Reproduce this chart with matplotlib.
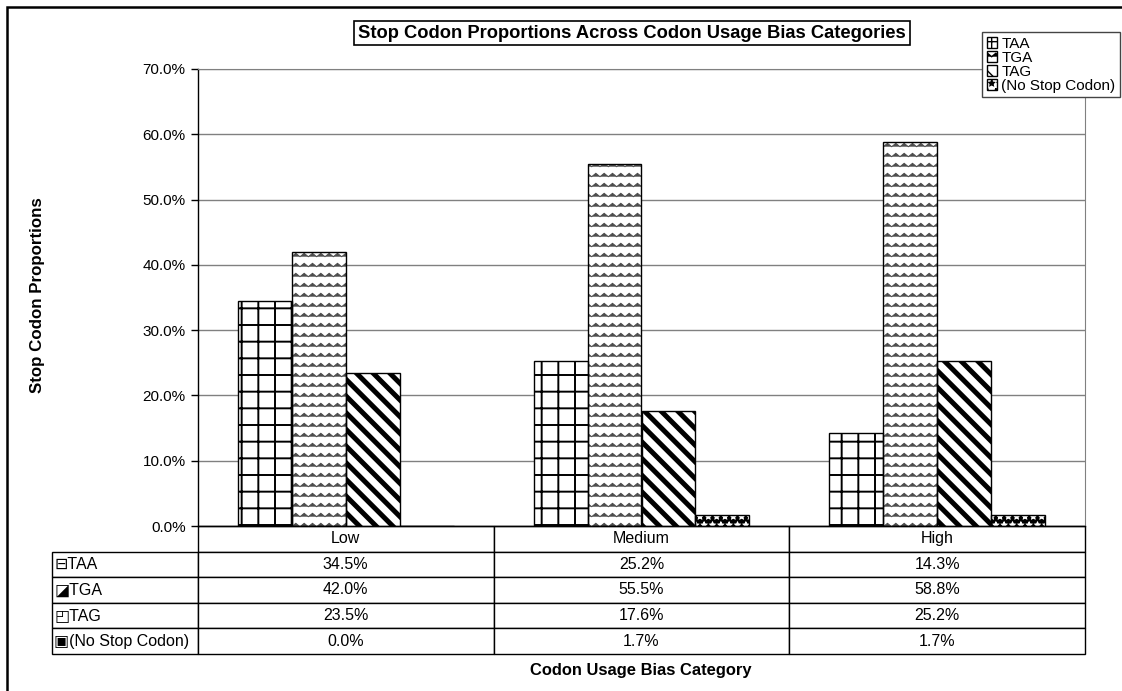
import warnings
import matplotlib
matplotlib.use("Agg")
import matplotlib.pyplot as plt
import numpy as np
from matplotlib import hatch as mhatch
from matplotlib.path import Path
from matplotlib.patches import Rectangle, Patch

warnings.filterwarnings("ignore")

categories = ["Low", "Medium", "High"]
series = ["TAA", "TGA", "TAG", "(No Stop Codon)"]
taa = [34.5, 25.2, 14.3]
tga = [42.0, 55.5, 58.8]
tag = [23.5, 17.6, 25.2]
no_stop = [0.0, 1.7, 1.7]
yticks = [0, 10, 20, 30, 40, 50, 60, 70]
table_icons = ["\u229f", "\u25ea", "\u25f0", "\u25a3"]

plt.rcParams["font.family"] = ["Liberation Sans", "DejaVu Sans"]

W, H = 1122, 691


class WaveHatch(mhatch.HatchPatternBase):
    # wavy horizontal lines for '~'
    def __init__(self, hatch, density):
        self.num_rows = (hatch.count("~") * density * 5) // 3
        self.periods = 12
        self.num_vertices = self.num_rows * (2 * self.periods + 1)

    def set_vertices_and_codes(self, vertices, codes):
        n = 2 * self.periods + 1
        xs = np.linspace(0, 1, n)
        amp = 0.17 / max(self.num_rows, 1)
        bump = np.where(np.arange(n) % 2 == 0, -amp, amp)
        for i in range(self.num_rows):
            y = (i + 0.5) / self.num_rows
            vertices[i * n:(i + 1) * n, 0] = xs
            vertices[i * n:(i + 1) * n, 1] = y + bump
            codes[i * n] = Path.MOVETO
            codes[i * n + 1:(i + 1) * n] = Path.LINETO


mhatch._hatch_types.append(WaveHatch)


def set_hlw(patch, lw):
    if hasattr(patch, "set_hatch_linewidth"):
        patch.set_hatch_linewidth(lw)


styles = [
    dict(hatch="+", lw=1.4, face="white", hcolor="black"),
    dict(hatch="~", lw=0.7, face="white", hcolor="#4d4d4d"),
    dict(hatch="\\\\", lw=3.6, face="white", hcolor="black"),
    dict(hatch="**", lw=0.8, face="black", hcolor="white"),
]
values = [taa, tga, tag, no_stop]

fig = plt.figure(figsize=(W / 100, H / 100), dpi=100)
ax = fig.add_axes([198 / W, 1 - 526 / H, 887 / W, 457 / H])

x = np.arange(len(categories))
bw = 54 / 296
for i, (vals, st) in enumerate(zip(values, styles)):
    xpos = x + (i - 1.5) * bw
    with plt.rc_context({"hatch.linewidth": st["lw"]}):
        bars = ax.bar(xpos, vals, bw, color=st["face"], edgecolor=st["hcolor"],
                      linewidth=0, hatch=st["hatch"], zorder=2)
        for b in bars:
            set_hlw(b, st["lw"])
    ax.bar(xpos, vals, bw, fill=False, edgecolor="black", linewidth=1, zorder=3)

ax.set_xlim(-0.5, 2.5)
ax.set_ylim(0, 70)
ax.set_xticks([])
ax.set_yticks(yticks, labels=[f"{t:.1f}%" for t in yticks])
ax.tick_params(axis="y", length=5, width=1, labelsize=11, pad=4)
ax.yaxis.grid(True, color="#808080", linewidth=1)
ax.set_axisbelow(True)
for side in ["top", "right"]:
    ax.spines[side].set_color("#808080")
for side in ["left", "bottom"]:
    ax.spines[side].set_color("black")
    ax.spines[side].set_linewidth(1)

# data table under the plot
cell_text = [[""] + categories]
for icon, name, vals in zip(table_icons, series, values):
    cell_text.append([f"{icon}{name}"] + [f"{v:.1f}%" for v in vals])
tab = ax.table(cellText=cell_text,
               colWidths=[146 / 1033, 296 / 1033, 296 / 1033, 296 / 1033],
               cellLoc="center",
               bbox=[-146 / 887, -128 / 457, 1033 / 887, 128 / 457])
tab.auto_set_font_size(False)
tab.set_fontsize(11.5)
for (r, c), cell in tab.get_celld().items():
    cell.set_edgecolor("black")
    cell.set_linewidth(1)
    if r == 0 and c == 0:
        cell.visible_edges = "open"
    if c == 0 and r > 0:
        cell._loc = "left"
        cell.PAD = 0.015
        cell.get_text().set_ha("left")

# legend
handles = []
for name, st in zip(series, styles):
    h = Patch(facecolor="white", edgecolor="black", hatch=st["hatch"], linewidth=1)
    handles.append(h)
leg = fig.legend(handles, series, loc="upper right",
                 bbox_to_anchor=(1120 / W, 1 - 32 / H),
                 fontsize=11, frameon=True, fancybox=False, framealpha=1,
                 edgecolor="#444444", handlelength=0.7, handleheight=0.7,
                 handletextpad=0.25, labelspacing=0.0, borderpad=0.3,
                 borderaxespad=0)
leg.get_frame().set_linewidth(1)

fig.text(632 / W, 1 - 33 / H, "Stop Codon Proportions Across Codon Usage Bias Categories",
         ha="center", va="center", fontsize=13.2, fontweight="bold",
         bbox=dict(boxstyle="square,pad=0.2", fc="white", ec="black", lw=1.2))
fig.text(38 / W, 1 - 295 / H, "Stop Codon Proportions", rotation=90,
         ha="center", va="center", fontsize=12.2, fontweight="bold")
fig.text(641 / W, 1 - 670 / H, "Codon Usage Bias Category",
         ha="center", va="center", fontsize=11.9, fontweight="bold")

# outer chart border (cropped at right and bottom)
fig.patches.append(Rectangle((7 / W, -0.05), 1130 / W, 1.05 - 7 / H,
                             transform=fig.transFigure, fill=False,
                             edgecolor="black", linewidth=1.8))

fig.savefig("out.png", dpi=100)
